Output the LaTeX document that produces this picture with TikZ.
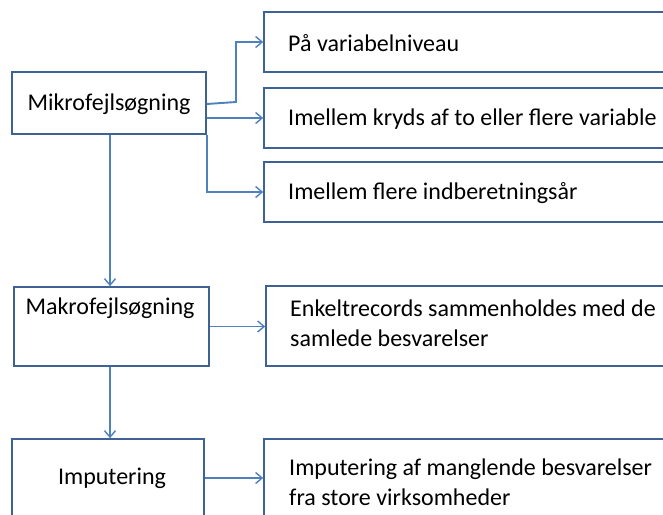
\documentclass[tikz,border=0pt]{standalone}
\usepackage{fontspec}
\setmainfont{Carlito}
\usetikzlibrary{arrows.meta}
\definecolor{boxline}{HTML}{3E6293}
\definecolor{arrline}{HTML}{4F81BD}
\begin{document}
\begin{tikzpicture}[x=1pt,y=-1pt,
  box/.style={draw=boxline,line width=1.6pt,fill=white,rectangle,inner sep=0pt},
  txt/.style={inner sep=0pt,font=\fontsize{24}{29.5}\selectfont,text=black},
  conn/.style={draw=arrline,line width=1.9pt,-{Straight Barb[length=6.5pt,width=11pt,line width=1.4pt]}}]
\useasboundingbox (0,0) rectangle (663,514);
\clip (0,0) rectangle (663,514);
\fill[white] (0,0) rectangle (663,514);
% boxes
\node[box,minimum width=194pt,minimum height=62pt] (mikro) at (109,103) {};
\node[box,minimum width=430pt,minimum height=60pt] (b1) at (479,42) {};
\node[box,minimum width=430pt,minimum height=60pt] (b2) at (479,118) {};
\node[box,minimum width=430pt,minimum height=60pt] (b3) at (479,192) {};
\node[box,minimum width=195pt,minimum height=79pt] (makro) at (111.5,326.5) {};
\node[box,minimum width=430pt,minimum height=80pt] (b4) at (481,326) {};
\node[box,minimum width=192pt,minimum height=101pt] (imput) at (108,489.5) {};
\node[box,minimum width=430pt,minimum height=101pt] (b5) at (479,489.5) {};
% texts
\node[txt] (tmikro) at (109,104) {Mikrofejlsøgning};
\node[txt,anchor=west] (t1) at (288,43) {På variabelniveau};
\node[txt,anchor=west] (t2) at (288,119) {Imellem kryds af to eller flere variable};
\node[txt,anchor=west] (t3) at (288,193) {Imellem flere indberetningsår};
\node[txt] (tmakro) at (110,308) {Makrofejlsøgning};
\node[txt,anchor=west,align=left] (t4) at (290,323) {Enkeltrecords sammenholdes med de\\samlede besvarelser};
\node[txt] (timput) at (112,478) {Imputering};
\node[txt,anchor=west,align=left] (t5) at (289,482) {Imputering af manglende besvarelser\\fra store virksomheder};
% connectors
\coordinate (m1) at ([yshift=-1pt]mikro.east);
\coordinate (bend1) at (236,102);
\draw[conn] (m1) -- (bend1) |- (b1.west);
\draw[conn] (mikro.east |- b2.west) -- (b2.west);
\draw[conn] (mikro.south east) |- (b3.west);
\draw[conn] ([xshift=1pt]mikro.south) -- ([xshift=1pt]mikro.south |- makro.north);
\draw[conn] (makro.east) -- (makro.east -| b4.west);
\draw[conn] ([xshift=-1.5pt]makro.south) -- ([xshift=-1.5pt]makro.south |- imput.north);
\draw[conn] (imput.east |- 0,478) -- (b5.west |- 0,478);
\end{tikzpicture}
\end{document}
